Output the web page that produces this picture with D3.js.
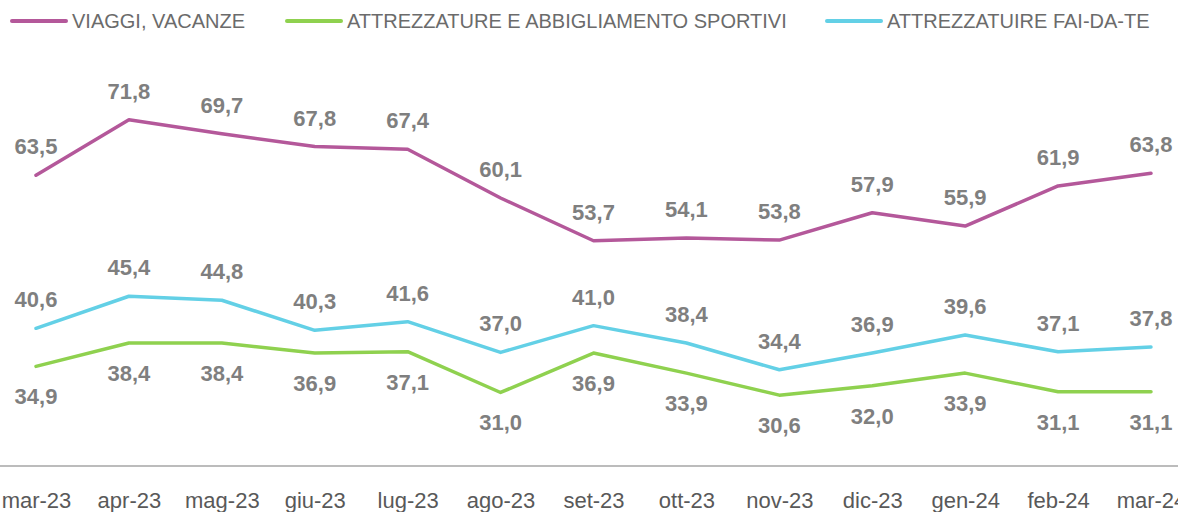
<!DOCTYPE html>
<html><head><meta charset="utf-8">
<script src="https://cdn.jsdelivr.net/npm/d3@7"></script>
<style>html,body{margin:0;padding:0;background:#fff;overflow:hidden}</style>
</head><body>
<svg id="c" width="1178" height="512"></svg>
<script>
const categories = ["mar-23","apr-23","mag-23","giu-23","lug-23","ago-23","set-23","ott-23","nov-23","dic-23","gen-24","feb-24","mar-24"];
const viaggi = [63.5,71.8,69.7,67.8,67.4,60.1,53.7,54.1,53.8,57.9,55.9,61.9,63.8];
const sportivi = [34.9,38.4,38.4,36.9,37.1,31.0,36.9,33.9,30.6,32.0,33.9,31.1,31.1];
const faidate = [40.6,45.4,44.8,40.3,41.6,37.0,41.0,38.4,34.4,36.9,39.6,37.1,37.8];
const seriesNames = ["VIAGGI, VACANZE","ATTREZZATURE E ABBIGLIAMENTO SPORTIVI","ATTREZZATUIRE FAI-DA-TE"];

const series = [
  {name: seriesNames[0], values: viaggi, color: "#B4589A", pos: "above"},
  {name: seriesNames[1], values: sportivi, color: "#8FD14F", pos: "below"},
  {name: seriesNames[2], values: faidate, color: "#63D0E6", pos: "above"}
];

const svg = d3.select("#c");
const x = d3.scalePoint().domain(categories).range([36, 1151]);
const y = d3.scaleLinear().domain([20, 80]).range([466, 65]);
const fmt = v => d3.format(".1f")(v).replace(".", ",");

// baseline
svg.append("line").attr("x1", 0).attr("x2", 1178).attr("y1", 466).attr("y2", 466)
  .attr("stroke", "#a6a6a6").attr("stroke-width", 1.5);

// axis
const axis = svg.append("g").attr("transform", "translate(0,466)")
  .call(d3.axisBottom(x).tickSize(0).tickPadding(26));
axis.select(".domain").remove();
axis.selectAll("text").attr("font-family", "Liberation Sans, Arial, sans-serif")
  .attr("font-size", 22).attr("fill", "#595959");

const line = d3.line().x((d, i) => x(categories[i])).y(d => y(d));

series.forEach(s => {
  svg.append("path").datum(s.values).attr("d", line)
    .attr("fill", "none").attr("stroke", s.color).attr("stroke-width", 3.5)
    .attr("stroke-linejoin", "round").attr("stroke-linecap", "round");
  svg.append("g").selectAll("text").data(s.values).join("text")
    .attr("x", (d, i) => x(categories[i]))
    .attr("y", d => s.pos === "above" ? y(d) - 21 : y(d) + 38)
    .attr("text-anchor", "middle")
    .attr("font-family", "Liberation Sans, Arial, sans-serif")
    .attr("font-weight", "bold").attr("font-size", 22).attr("fill", "#7f7f7f")
    .text(d => fmt(d));
});

// legend
const legendX = [12, 287, 827];
const lg = svg.append("g");
series.forEach((s, i) => {
  lg.append("line").attr("x1", legendX[i]).attr("x2", legendX[i] + 54)
    .attr("y1", 21).attr("y2", 21).attr("stroke", s.color).attr("stroke-width", 4)
    .attr("stroke-linecap", "round");
  lg.append("text").attr("x", legendX[i] + 60).attr("y", 28)
    .attr("font-family", "Liberation Sans, Arial, sans-serif")
    .attr("font-size", 20).attr("fill", "#6b6b6b").text(s.name);
});
</script>
</body></html>
